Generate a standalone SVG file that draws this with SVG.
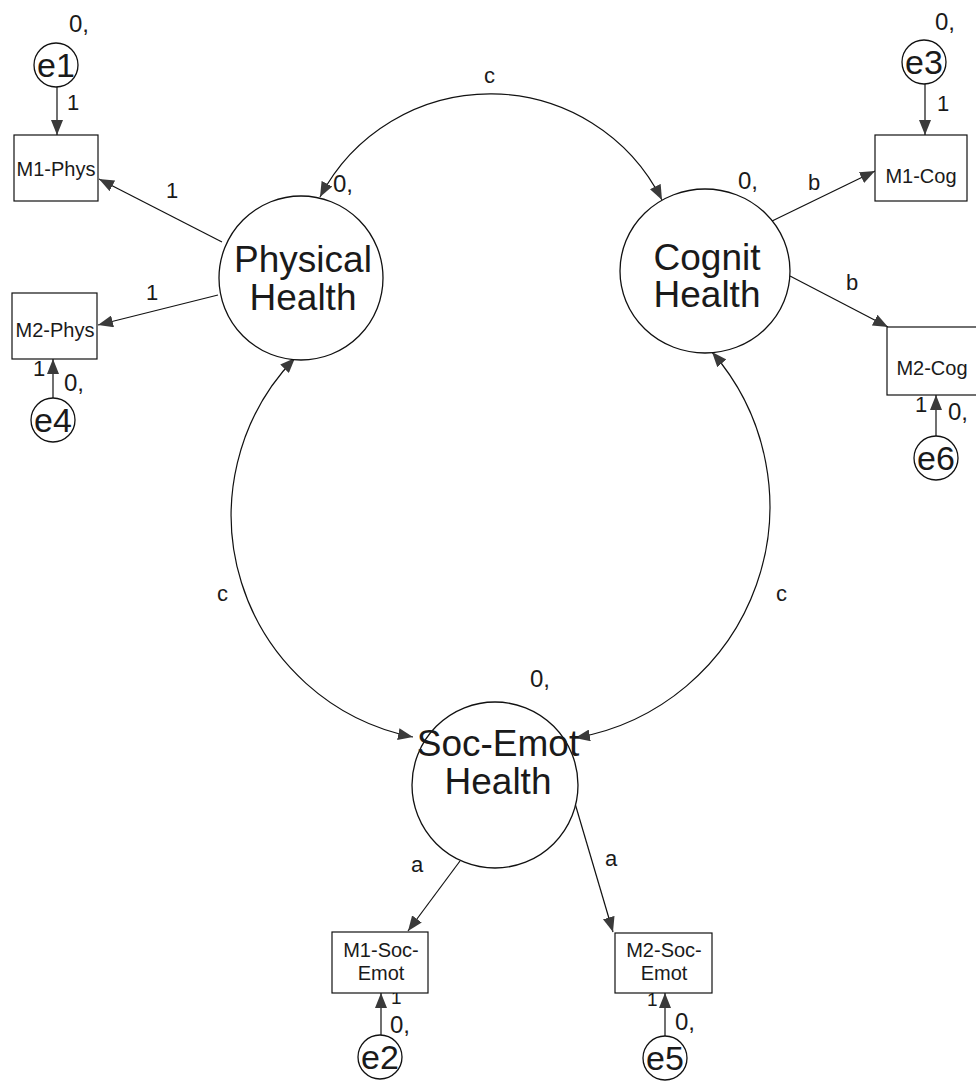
<svg xmlns="http://www.w3.org/2000/svg" width="976" height="1083" viewBox="0 0 976 1083">
<style>
.bg{fill:#fff}
.lat{fill:#fff;stroke:#111;stroke-width:1.3}
.err{fill:#fff;stroke:#111;stroke-width:1.3}
.box{fill:#fff;stroke:#111;stroke-width:1.2}
.ln{fill:none;stroke:#111;stroke-width:1.2}
.t{font-family:"Liberation Sans",Arial,sans-serif;fill:#1a1a1a}
.big{font-size:37px;text-anchor:middle}
.obs{font-size:20px;text-anchor:middle}
.e{font-size:34px;text-anchor:middle}
.lab{font-size:22px}
.sm{font-size:19px}
.z{font-size:24px}
</style>
<defs>
<marker id="ah" markerUnits="userSpaceOnUse" markerWidth="15" markerHeight="12" refX="15" refY="6" orient="auto-start-reverse" viewBox="0 0 15 12">
<path d="M0,0 L15,6 L0,12 z" fill="#3a3a3a"/>
</marker>
</defs>
<rect class="bg" x="0" y="0" width="976" height="1083"/>

<g id="connectors">
<path class="ln" d="M320,197 A192,192 0 0,1 662,200" marker-start="url(#ah)" marker-end="url(#ah)"/>
<path class="ln" d="M295,358 A226,226 0 0,0 413,737" marker-start="url(#ah)" marker-end="url(#ah)"/>
<path class="ln" d="M712,352 A235,235 0 0,1 575,738" marker-start="url(#ah)" marker-end="url(#ah)"/>
<line class="ln" x1="222" y1="242" x2="99" y2="179" marker-end="url(#ah)"/>
<line class="ln" x1="218" y1="295" x2="98" y2="325" marker-end="url(#ah)"/>
<line class="ln" x1="770" y1="222" x2="875" y2="171" marker-end="url(#ah)"/>
<line class="ln" x1="790" y1="276" x2="888" y2="327" marker-end="url(#ah)"/>
<line class="ln" x1="460" y1="861" x2="408" y2="931" marker-end="url(#ah)"/>
<line class="ln" x1="574" y1="800" x2="613" y2="932" marker-end="url(#ah)"/>
<line class="ln" x1="57" y1="87" x2="57" y2="135" marker-end="url(#ah)"/>
<line class="ln" x1="925" y1="84" x2="925" y2="135" marker-end="url(#ah)"/>
<line class="ln" x1="53" y1="398" x2="53" y2="359" marker-end="url(#ah)"/>
<line class="ln" x1="936" y1="436" x2="936" y2="395" marker-end="url(#ah)"/>
<line class="ln" x1="381" y1="1035" x2="381" y2="993" marker-end="url(#ah)"/>
<line class="ln" x1="665" y1="1036" x2="665" y2="993" marker-end="url(#ah)"/>
<text class="t lab" x="484" y="83">c</text>
<text class="t lab" x="217" y="601">c</text>
<text class="t lab" x="776" y="601">c</text>
<text class="t lab" x="166" y="198">1</text>
<text class="t lab" x="146" y="300">1</text>
<text class="t lab" x="808" y="190">b</text>
<text class="t lab" x="846" y="290">b</text>
<text class="t lab" x="411" y="872">a</text>
<text class="t lab" x="605" y="866">a</text>
<text class="t lab" x="67" y="110">1</text>
<text class="t lab" x="937" y="111">1</text>
<text class="t lab" x="33" y="376">1</text>
<text class="t lab" x="915" y="412">1</text>
<text class="t sm" x="391" y="1004">1</text>
<text class="t sm" x="647" y="1006">1</text>
</g>

<g id="PhysicalHealth">
<circle class="lat" cx="301" cy="278" r="82"/>
<text class="t big" x="303" y="272">Physical</text>
<text class="t big" x="303" y="310">Health</text>
<text class="t z" x="333" y="192">0,</text>
</g>
<g id="CognitHealth">
<ellipse class="lat" cx="705" cy="271" rx="85" ry="82"/>
<text class="t big" x="707" y="270">Cognit</text>
<text class="t big" x="707" y="307">Health</text>
<text class="t z" x="738" y="189">0,</text>
</g>
<g id="SocEmotHealth">
<circle class="lat" cx="495" cy="785" r="83"/>
<text class="t big" x="498" y="756">Soc-Emot</text>
<text class="t big" x="498" y="794">Health</text>
<text class="t z" x="530" y="687">0,</text>
</g>

<g id="M1-Phys">
<rect class="box" x="14" y="135" width="84" height="66"/>
<text class="t obs" x="56" y="176">M1-Phys</text>
</g>
<g id="M2-Phys">
<rect class="box" x="12" y="293" width="85" height="66"/>
<text class="t obs" x="55" y="337">M2-Phys</text>
</g>
<g id="M1-Cog">
<rect class="box" x="875" y="135" width="92" height="66"/>
<text class="t obs" x="921" y="183">M1-Cog</text>
</g>
<g id="M2-Cog">
<rect class="box" x="887" y="327" width="95" height="68"/>
<text class="t obs" x="932" y="375">M2-Cog</text>
</g>
<g id="M1-Soc-Emot">
<rect class="box" x="332" y="932" width="96" height="61"/>
<text class="t obs" x="381" y="957">M1-Soc-</text>
<text class="t obs" x="381" y="980">Emot</text>
</g>
<g id="M2-Soc-Emot">
<rect class="box" x="615" y="933" width="97" height="60"/>
<text class="t obs" x="664" y="957">M2-Soc-</text>
<text class="t obs" x="664" y="980">Emot</text>
</g>

<g id="e1">
<circle class="err" cx="56" cy="65" r="22"/>
<text class="t e" x="56" y="77">e1</text>
<text class="t z" x="69" y="32">0,</text>
</g>
<g id="e3">
<circle class="err" cx="924" cy="62" r="22"/>
<text class="t e" x="924" y="74">e3</text>
<text class="t z" x="935" y="30">0,</text>
</g>
<g id="e4">
<circle class="err" cx="53" cy="420" r="22"/>
<text class="t e" x="53" y="432">e4</text>
<text class="t z" x="64" y="391">0,</text>
</g>
<g id="e6">
<circle class="err" cx="936" cy="458" r="22"/>
<text class="t e" x="936" y="470">e6</text>
<text class="t z" x="948" y="420">0,</text>
</g>
<g id="e2">
<circle class="err" cx="380" cy="1057" r="22"/>
<text class="t e" x="380" y="1069">e2</text>
<text class="t z" x="390" y="1033">0,</text>
</g>
<g id="e5">
<circle class="err" cx="665" cy="1058" r="22"/>
<text class="t e" x="665" y="1070">e5</text>
<text class="t z" x="675" y="1030">0,</text>
</g>
</svg>
